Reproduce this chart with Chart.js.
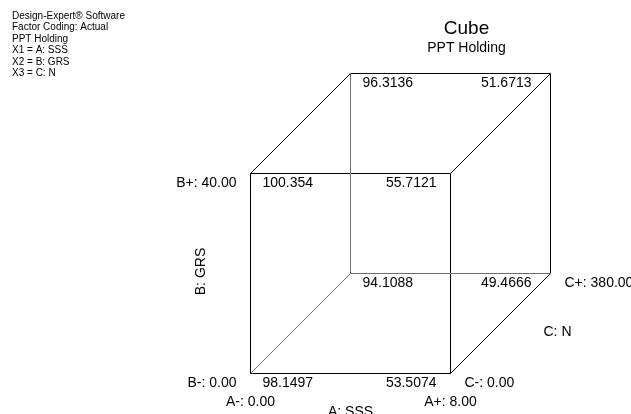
<!DOCTYPE html>
<html>
<head>
<meta charset="utf-8">
<script src="https://cdn.jsdelivr.net/npm/chart.js@4/dist/chart.umd.min.js"></script>
<style>
  html, body { margin: 0; padding: 0; background: #fff; }
  #wrap { width: 631px; height: 414px; position: relative; }
</style>
</head>
<body>
<div id="wrap"><canvas id="cube-chart"></canvas></div>
<script>
"use strict";

// corner order: A, B, C coded levels
var cornerA = [-1, 1, -1, 1, -1, 1, -1, 1];
var cornerB = [-1, -1, 1, 1, -1, -1, 1, 1];
var cornerC = [-1, -1, -1, -1, 1, 1, 1, 1];
var cornerValues = [
    "98.1497", "53.5074", "100.354", "55.7121",
    "94.1088", "49.4666", "96.3136", "51.6713",
];

var infoLines = [
    "Design-Expert® Software",
    "Factor Coding: Actual",
    "PPT Holding",
    "X1 = A: SSS",
    "X2 = B: GRS",
    "X3 = C: N",
];
var titleText = "Cube";
var subtitleText = "PPT Holding";

var factorA = { name: "A: SSS", low: "A-: 0.00", high: "A+: 8.00" };
var factorB = { name: "B: GRS", low: "B-: 0.00", high: "B+: 40.00" };
var factorC = { name: "C: N", low: "C-: 0.00", high: "C+: 380.00" };

// edges as pairs of corner indexes; hidden ones drawn grey
var edges = [
    [0, 1], [2, 3], [0, 2], [1, 3],
    [6, 7], [5, 7], [2, 6], [3, 7], [1, 5],
];
var hiddenEdges = [[4, 6], [4, 5], [0, 4]];

function projX(i) {
    return cornerA[i] + (cornerC[i] + 1) / 2;
}
function projY(i) {
    return cornerB[i] + (cornerC[i] + 1) / 2;
}

function edgeDataset(e, color) {
    return {
        data: [
            { x: projX(e[0]), y: projY(e[0]) },
            { x: projX(e[1]), y: projY(e[1]) },
        ],
        showLine: true,
        borderColor: color,
        borderWidth: 1,
        pointRadius: 0,
        fill: false,
    };
}

var datasets = [];
hiddenEdges.forEach(function (e) {
    datasets.push(edgeDataset(e, "#6e6e6e"));
});
edges.forEach(function (e) {
    datasets.push(edgeDataset(e, "#000"));
});

var FONT = "Arial, 'Liberation Sans', sans-serif";

var cubeLabels = {
    id: "cubeLabels",
    afterDatasetsDraw: function (chart) {
        var c = chart.ctx;
        var sx = chart.scales.x;
        var sy = chart.scales.y;
        function px(i) { return sx.getPixelForValue(projX(i)); }
        function py(i) { return sy.getPixelForValue(projY(i)); }
        function text(t, x, y, align, size) {
            c.font = size + "px " + FONT;
            c.textAlign = align;
            c.textBaseline = "middle";
            c.fillText(t, x, y);
        }
        c.save();
        c.fillStyle = "#000";

        infoLines.forEach(function (t, k) {
            text(t, 12, 16 + k * 11.5, "left", 10);
        });

        var cx = (px(4) + px(5)) / 2 + 16;
        text(titleText, cx, 29, "center", 19);
        text(subtitleText, cx, 48, "center", 14);

        cornerValues.forEach(function (v, i) {
            if (cornerA[i] < 0) {
                text(v, px(i) + 12, py(i) + 10, "left", 14);
            } else {
                var off = cornerC[i] > 0 ? 19 : 14;
                text(v, px(i) - off, py(i) + 10, "right", 14);
            }
        });

        // factor B labels
        text(factorB.high, px(2) - 14, py(2) + 10, "right", 14);
        text(factorB.low, px(0) - 14, py(0) + 10, "right", 14);
        c.save();
        c.translate(px(0) - 49, (py(0) + py(2)) / 2 - 2);
        c.rotate(-Math.PI / 2);
        text(factorB.name, 0, 0, "center", 14);
        c.restore();

        // factor A labels
        text(factorA.low, px(0), py(0) + 29, "center", 14);
        text(factorA.high, px(1), py(1) + 29, "center", 14);
        text(factorA.name, (px(0) + px(1)) / 2, py(0) + 39, "center", 14);

        // factor C labels
        text(factorC.low, px(1) + 14, py(1) + 10, "left", 14);
        text(factorC.high, px(5) + 14, py(5) + 10, "left", 14);
        text(factorC.name, (px(1) + px(5)) / 2 + 43, (py(1) + py(5)) / 2 + 9, "left", 14);

        c.restore();
    },
};

var ctx = document.getElementById("cube-chart").getContext("2d");

new Chart(ctx, {
    type: "scatter",
    data: { datasets: datasets },
    options: {
        responsive: true,
        maintainAspectRatio: false,
        animation: false,
        layout: { padding: 0 },
        scales: {
            x: { type: "linear", display: false, min: -3.505, max: 2.805 },
            y: { type: "linear", display: false, min: -1.405, max: 2.735 },
        },
        plugins: {
            legend: { display: false },
            tooltip: { enabled: false },
        },
    },
    plugins: [cubeLabels],
});
</script>
</body>
</html>
